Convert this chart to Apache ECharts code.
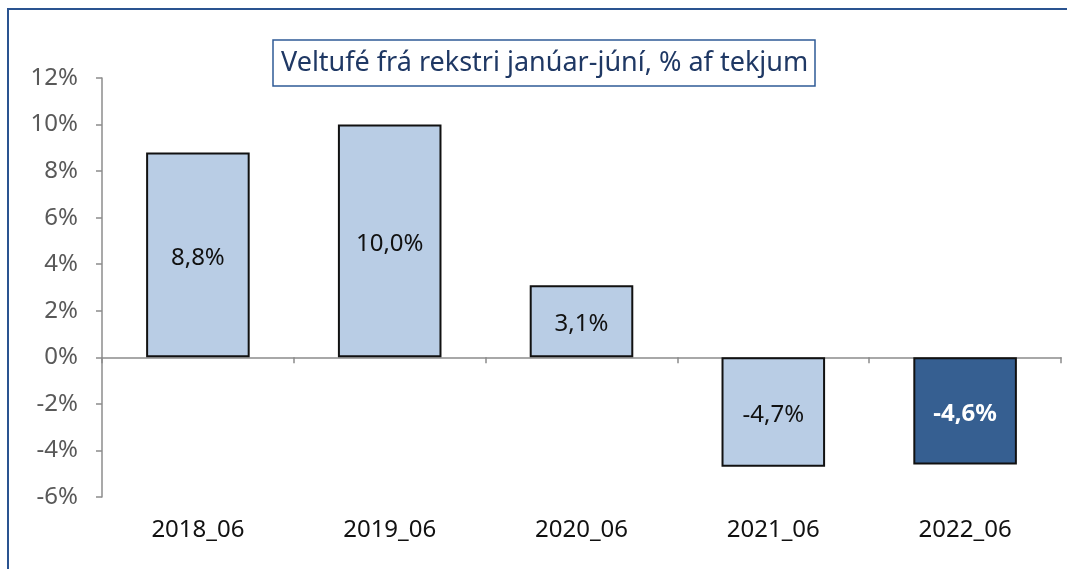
<!DOCTYPE html>
<html lang="is">
<head>
    <meta charset="UTF-8">
    <title>Veltufé frá rekstri</title>
    <script src="https://cdn.jsdelivr.net/npm/echarts/dist/echarts.min.js"></script>
    <style>
        * { margin: 0; padding: 0; box-sizing: border-box; }
        body { background: #fff; }
        #chart { width: 1067px; height: 569px; }
    </style>
</head>
<body>
    <div id="chart"></div>
    <script>
        const categories = ['2018_06', '2019_06', '2020_06', '2021_06', '2022_06'];
        const values = [8.8, 10.0, 3.1, -4.7, -4.6];
        const highlightIndex = 4;
        const yTicks = { min: -6, max: 12, interval: 2 };

        const font = '"Noto Sans", "Open Sans", sans-serif';
        const lightBlue = '#B9CDE5';
        const darkBlue = '#365F91';

        const fmt = v => v.toFixed(1).replace('.', ',') + '%';

        const chart = echarts.init(document.getElementById('chart'));
        chart.setOption({
            animation: false,
            textStyle: { fontFamily: font },
            title: {
                text: 'Veltufé frá rekstri janúar-júní, % af tekjum',
                left: 273,
                top: 40,
                padding: [10, 7, 9, 8],
                borderColor: '#2F5B96',
                borderWidth: 1.5,
                textStyle: { fontFamily: font, fontSize: 27, fontWeight: 'normal', color: '#1F3864' }
            },
            graphic: [{
                type: 'rect',
                shape: { x: 8, y: 9, width: 1200, height: 700 },
                style: { fill: 'none', stroke: '#2A5390', lineWidth: 2 },
                silent: true
            }],
            grid: { left: 102, right: 6, top: 78, bottom: 72, containLabel: false },
            xAxis: [{
                type: 'category',
                data: categories,
                axisLine: { onZero: false, show: false },
                axisTick: { show: false },
                axisLabel: { margin: 21, fontSize: 24, color: '#111', fontFamily: font }
            }, {
                type: 'category',
                data: categories,
                position: 'bottom',
                axisLine: { onZero: true, lineStyle: { color: '#8C8C8C', width: 1.5 } },
                axisTick: { show: true, length: 6, lineStyle: { color: '#8C8C8C', width: 1.5 } },
                axisLabel: { show: false }
            }],
            yAxis: {
                type: 'value',
                min: yTicks.min,
                max: yTicks.max,
                interval: yTicks.interval,
                splitLine: { show: false },
                axisLine: { show: true, lineStyle: { color: '#8C8C8C', width: 1.5 } },
                axisTick: { show: true, length: 6, lineStyle: { color: '#8C8C8C', width: 1.5 } },
                axisLabel: {
                    formatter: '{value}%',
                    margin: 24,
                    fontSize: 24,
                    color: '#595959',
                    fontFamily: font
                }
            },
            series: [{
                type: 'bar',
                xAxisIndex: 0,
                barWidth: '54%',
                data: values.map((v, i) => ({
                    value: v,
                    itemStyle: { color: i === highlightIndex ? darkBlue : lightBlue },
                    label: i === highlightIndex
                        ? { color: '#fff', fontWeight: 'bold' }
                        : { color: '#111', fontWeight: 'normal' }
                })),
                itemStyle: { borderColor: '#111', borderWidth: 2 },
                label: {
                    show: true,
                    position: 'inside',
                    fontSize: 24,
                    fontFamily: font,
                    offset: [0, 3],
                    formatter: p => fmt(p.value)
                }
            }]
        });
    </script>
</body>
</html>
